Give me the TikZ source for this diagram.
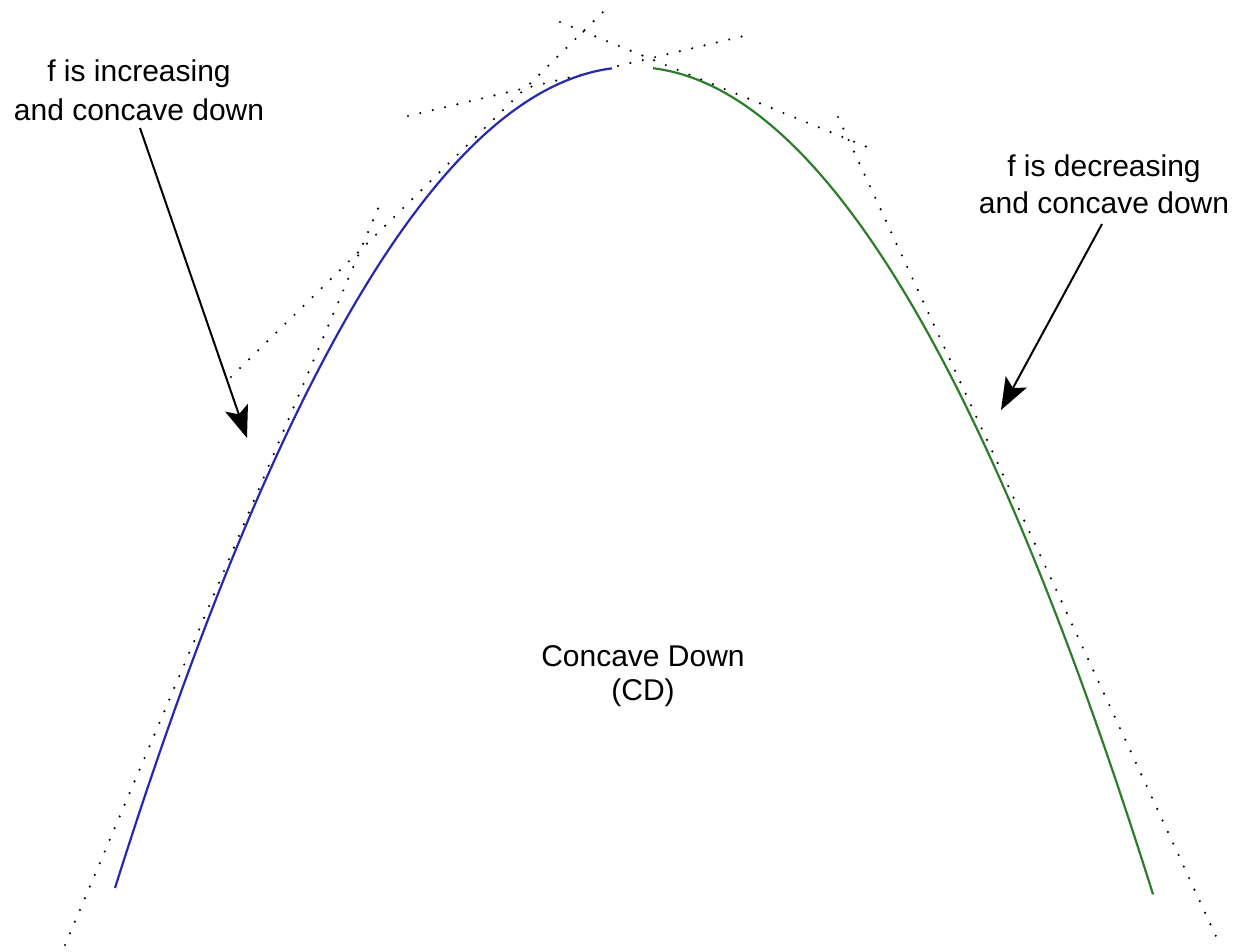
\documentclass[tikz,border=0pt]{standalone}
\usepackage{fontspec}
\setmainfont{Liberation Sans}
\usetikzlibrary{arrows.meta}
\definecolor{cblue}{RGB}{40,40,175}
\definecolor{cgreen}{RGB}{45,125,45}
\begin{document}
\begin{tikzpicture}[x=1pt,y=-1pt,
  tangentline/.style={line width=2.4pt, dash pattern=on 0pt off 12.7pt, line cap=round, black},
  incr/.style={cblue, line width=2.2pt},
  decr/.style={cgreen, line width=2.2pt},
  lbl/.style={inner sep=0pt, align=center, anchor=north},
  arr/.style={line width=2pt, -{Stealth[length=32pt,width=24pt,inset=7pt]}}]
\useasboundingbox[fill=white] (0,0) rectangle (1236,951);

% tangent lines (dotted)
\coordinate (t1a) at (231,377); \coordinate (t1b) at (603,12);
\coordinate (t2a) at (65,945);  \coordinate (t2b) at (380,204);
\coordinate (t3a) at (408,116); \coordinate (t3b) at (748,35);
\coordinate (t4a) at (560,22);  \coordinate (t4b) at (872,149);
\coordinate (t5a) at (838,117); \coordinate (t5b) at (1220,945);
\draw[tangentline] (t1a) -- (t1b);
\draw[tangentline] (t2a) -- (t2b);
\draw[tangentline] (t3a) -- (t3b);
\draw[tangentline] (t4a) -- (t4b);
\draw[tangentline] (t5a) -- (t5b);

% the concave-down curve
\draw[incr] plot[domain=115:612, samples=120, smooth] (\x, {67+(0.05532*(\x-633))^2});
\draw[decr] plot[domain=653:1153, samples=120, smooth] (\x, {67+(0.05532*(\x-633))^2});

% labels
\node[lbl, font=\fontsize{30}{39}\selectfont] (inc) at (139,60) {f is increasing\\and concave down};
\node[lbl, font=\fontsize{30}{37}\selectfont] (dec) at (1104,155) {f is decreasing\\and concave down};
\node[lbl, font=\fontsize{30}{34}\selectfont] (cd) at (643,645) {Concave Down\\(CD)};

% arrows
\coordinate (incstart) at (140,128); \coordinate (inctip) at (247,438);
\coordinate (decstart) at (1102,224); \coordinate (dectip) at (1001,410);
\draw[arr] (incstart) -- (inctip);
\draw[arr] (decstart) -- (dectip);
\end{tikzpicture}
\end{document}
